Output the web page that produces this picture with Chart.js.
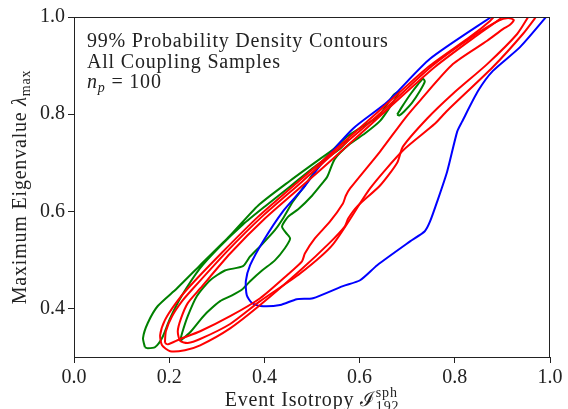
<!DOCTYPE html>
<html>
<head>
<meta charset="utf-8">
<script src="https://cdn.jsdelivr.net/npm/chart.js@4.4.0/dist/chart.umd.min.js"></script>
<style>
  html, body { margin: 0; padding: 0; background: #fff; }
</style>
</head>
<body>
<canvas id="contourChart" width="568" height="409"></canvas>
<script>
// Tick positions
const xTicks = [0.0, 0.2, 0.4, 0.6, 0.8, 1.0];
const yTicks = [0.4, 0.6, 0.8, 1.0];

// Contour outlines as [event isotropy, max eigenvalue]
const blueContour = [
    [0.884, 1.005], [0.748, 0.914], [0.658, 0.825], [0.586, 0.770], [0.517, 0.694],
    [0.481, 0.647], [0.439, 0.600], [0.397, 0.538], [0.370, 0.489], [0.361, 0.456],
    [0.363, 0.427], [0.374, 0.411], [0.391, 0.405], [0.433, 0.407], [0.468, 0.419],
    [0.502, 0.421], [0.565, 0.446], [0.601, 0.458], [0.637, 0.489], [0.706, 0.538],
    [0.737, 0.559], [0.748, 0.579], [0.763, 0.620], [0.784, 0.682], [0.805, 0.764],
    [0.815, 0.784], [0.849, 0.848], [0.880, 0.889], [0.937, 0.938], [0.996, 1.005]
];

const redContourA = [
    [0.191, 0.329], [0.193, 0.353], [0.206, 0.384], [0.227, 0.415], [0.250, 0.441],
    [0.321, 0.517], [0.395, 0.589], [0.479, 0.661], [0.538, 0.713], [0.647, 0.805],
    [0.752, 0.899], [0.836, 0.959], [0.891, 0.992], [0.912, 0.998], [0.924, 0.994],
    [0.916, 0.984], [0.901, 0.975], [0.868, 0.951], [0.796, 0.903], [0.727, 0.828],
    [0.695, 0.791], [0.643, 0.723], [0.580, 0.647], [0.571, 0.632], [0.565, 0.616],
    [0.538, 0.579], [0.506, 0.544], [0.485, 0.513], [0.479, 0.497], [0.447, 0.468],
    [0.391, 0.421], [0.328, 0.384], [0.265, 0.353], [0.223, 0.337], [0.197, 0.326],
    [0.191, 0.329]
];

const redContourB = [
    [0.887, 1.006], [0.874, 0.992], [0.832, 0.959], [0.744, 0.897], [0.639, 0.805],
    [0.527, 0.708], [0.471, 0.661], [0.387, 0.589], [0.311, 0.515], [0.239, 0.441],
    [0.214, 0.411], [0.191, 0.376], [0.181, 0.345], [0.185, 0.324], [0.202, 0.312],
    [0.233, 0.314], [0.265, 0.324], [0.328, 0.359], [0.391, 0.407], [0.475, 0.478],
    [0.538, 0.536], [0.569, 0.569], [0.576, 0.585], [0.595, 0.610], [0.643, 0.653],
    [0.679, 0.700], [0.691, 0.733], [0.742, 0.791], [0.796, 0.842], [0.868, 0.903],
    [0.931, 0.965], [0.958, 1.006]
];

const redContourC = [
    [0.903, 1.006], [0.895, 0.996], [0.842, 0.959], [0.758, 0.897], [0.653, 0.805],
    [0.544, 0.708], [0.485, 0.657], [0.401, 0.585], [0.328, 0.513], [0.265, 0.441],
    [0.239, 0.411], [0.225, 0.380], [0.218, 0.353], [0.223, 0.333], [0.239, 0.329],
    [0.265, 0.337], [0.328, 0.368], [0.391, 0.415], [0.475, 0.472], [0.544, 0.532],
    [0.622, 0.647], [0.691, 0.725], [0.758, 0.780], [0.784, 0.807], [0.880, 0.897],
    [0.943, 0.965], [0.975, 1.006]
];

const greenContourA = [
    [0.149, 0.320], [0.145, 0.339], [0.155, 0.370], [0.176, 0.405], [0.216, 0.441],
    [0.265, 0.489], [0.328, 0.550], [0.387, 0.612], [0.454, 0.663], [0.517, 0.708],
    [0.559, 0.737], [0.576, 0.747], [0.559, 0.729], [0.506, 0.692], [0.454, 0.651],
    [0.401, 0.610], [0.355, 0.573], [0.307, 0.528], [0.265, 0.483], [0.227, 0.427],
    [0.202, 0.380], [0.185, 0.339], [0.170, 0.320], [0.155, 0.318], [0.149, 0.320]
];

const greenContourB = [
    [0.223, 0.333], [0.244, 0.351], [0.265, 0.376], [0.282, 0.394], [0.307, 0.415],
    [0.332, 0.427], [0.353, 0.439], [0.370, 0.456], [0.395, 0.478], [0.422, 0.499],
    [0.443, 0.524], [0.454, 0.544], [0.445, 0.556], [0.437, 0.569], [0.450, 0.589],
    [0.471, 0.604], [0.500, 0.632], [0.521, 0.657], [0.532, 0.671], [0.548, 0.708],
    [0.580, 0.739], [0.611, 0.760], [0.643, 0.786], [0.668, 0.821], [0.683, 0.846],
    [0.672, 0.840], [0.639, 0.795], [0.605, 0.774], [0.574, 0.754], [0.542, 0.725],
    [0.513, 0.692], [0.485, 0.653], [0.460, 0.620], [0.439, 0.585], [0.422, 0.561],
    [0.395, 0.532], [0.370, 0.507], [0.355, 0.487], [0.317, 0.478], [0.286, 0.458],
    [0.258, 0.425], [0.239, 0.384], [0.227, 0.349], [0.223, 0.333]
];

const greenContourC = [
    [0.679, 0.799], [0.689, 0.815], [0.706, 0.840], [0.723, 0.862], [0.733, 0.873],
    [0.737, 0.867], [0.727, 0.848], [0.710, 0.823], [0.693, 0.805], [0.683, 0.797],
    [0.679, 0.799]
];

const SERIF = '"Liberation Serif", "DejaVu Serif", serif';
const FONT_SIZE = 20;

function contour(points, color, order) {
    return {
        data: points.map(([x, y]) => ({ x, y })),
        showLine: true,
        borderColor: color,
        borderWidth: 2,
        pointRadius: 0,
        pointHoverRadius: 0,
        tension: 0.22,
        fill: false,
        clip: 0,
        order: order
    };
}

// draw a list of text runs left to right, returns the end x
function drawRuns(ctx, x, y, runs, measureOnly) {
    for (const r of runs) {
        ctx.font = r.font;
        if (!measureOnly) ctx.fillText(r.text, x, y + (r.dy || 0));
        if (!r.noAdvance) x += ctx.measureText(r.text).width;
    }
    return x;
}

const roman = s => `${s}px ${SERIF}`;
const italic = s => `italic ${s}px ${SERIF}`;

// frame, annotation and axis titles
const decorations = {
    id: "decorations",
    afterDraw(chart) {
        const { ctx, chartArea: a } = chart;
        ctx.save();
        ctx.strokeStyle = "#222";
        ctx.lineWidth = 1;
        ctx.strokeRect(a.left + 0.5, a.top + 0.5, a.right - a.left - 1, a.bottom - a.top);

        ctx.fillStyle = "#222";
        ctx.textBaseline = "alphabetic";
        ctx.textAlign = "left";
        ctx.letterSpacing = "0.8px";

        // annotation in the upper left
        const ax = a.left + 13;
        drawRuns(ctx, ax, 47, [{ text: "99% Probability Density Contours", font: roman(FONT_SIZE) }]);
        drawRuns(ctx, ax, 68, [{ text: "All Coupling Samples", font: roman(FONT_SIZE) }]);
        drawRuns(ctx, ax, 88, [
            { text: "n", font: italic(FONT_SIZE) },
            { text: "p", font: italic(14), dy: 4 },
            { text: " = 100", font: roman(FONT_SIZE) }
        ]);

        // x title
        const xRuns = [
            { text: "Event Isotropy ", font: roman(FONT_SIZE) },
            { text: "\u2110", font: roman(FONT_SIZE) },
            { text: "sph", font: roman(14), dy: -9, noAdvance: true },
            { text: "192", font: roman(14), dy: 5 }
        ];
        const xw = drawRuns(ctx, 0, 0, xRuns, true);
        drawRuns(ctx, (a.left + a.right) / 2 - xw / 2, 406, xRuns);

        // y title
        const yRuns = [
            { text: "Maximum Eigenvalue ", font: roman(FONT_SIZE) },
            { text: "\u03bb", font: italic(FONT_SIZE) },
            { text: "max", font: roman(14), dy: 4 }
        ];
        const yw = drawRuns(ctx, 0, 0, yRuns, true);
        ctx.translate(26, (a.top + a.bottom) / 2);
        ctx.rotate(-Math.PI / 2);
        drawRuns(ctx, -yw / 2, 0, yRuns);
        ctx.restore();
    }
};

const ctx = document.getElementById("contourChart");
const contourChart = new Chart(ctx, {
    type: "scatter",
    data: {
        datasets: [
            contour(greenContourA, "#008000", 3),
            contour(greenContourB, "#008000", 3),
            contour(greenContourC, "#008000", 3),
            contour(blueContour, "#0000ff", 2),
            contour(redContourA, "#ff0000", 1),
            contour(redContourB, "#ff0000", 1),
            contour(redContourC, "#ff0000", 1)
        ]
    },
    options: {
        responsive: false,
        animation: false,
        events: [],
        layout: { padding: { top: 17, right: 18, left: 0, bottom: 0 } },
        plugins: {
            legend: { display: false },
            tooltip: { enabled: false }
        },
        scales: {
            x: {
                type: "linear",
                min: 0,
                max: 1,
                afterBuildTicks: s => { s.ticks = xTicks.map(v => ({ value: v })); },
                afterFit: s => { s.height = 52; },
                border: { display: false },
                grid: { drawOnChartArea: false, drawTicks: true, tickLength: 6, color: "#222" },
                ticks: {
                    color: "#222",
                    padding: 3,
                    maxRotation: 0,
                    font: { family: SERIF, size: FONT_SIZE },
                    callback: v => v.toFixed(1)
                }
            },
            y: {
                type: "linear",
                min: 0.3,
                max: 1.0,
                afterBuildTicks: s => { s.ticks = yTicks.map(v => ({ value: v })); },
                afterFit: s => { s.width = 74; },
                border: { display: false },
                grid: { drawOnChartArea: false, drawTicks: true, tickLength: 6, color: "#222" },
                ticks: {
                    color: "#222",
                    padding: 3,
                    font: { family: SERIF, size: FONT_SIZE },
                    callback: v => v.toFixed(1)
                }
            }
        }
    },
    plugins: [decorations]
});
</script>
</body>
</html>
